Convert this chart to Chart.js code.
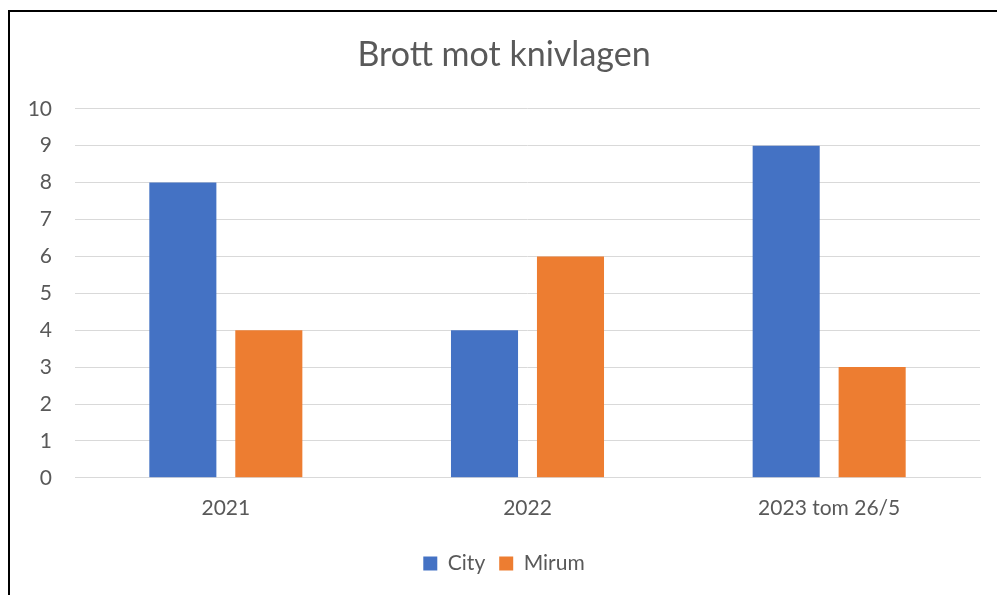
<!DOCTYPE html>
<html lang="sv">
<head>
  <meta charset="UTF-8">
  <title>Brott mot knivlagen</title>
  <script src="https://cdn.jsdelivr.net/npm/chart.js"></script>
  <style>
    body {
      margin: 0;
      background: #fff;
    }
    .frame {
      position: absolute;
      left: 8px;
      top: 10px;
      width: 989px;
      height: 585px;
      border-left: 2px solid #000;
      border-top: 2px solid #000;
      box-sizing: border-box;
    }
    .chart-box {
      position: absolute;
      left: 2px;
      top: 0;
      width: 987px;
      height: 583px;
    }
  </style>
</head>
<body>
  <div class="frame">
    <div class="chart-box">
      <canvas id="barChart"></canvas>
    </div>
  </div>

  <script>
    // data
    const categories = ["2021", "2022", "2023 tom 26/5"];
    const cityValues = [8, 4, 9];
    const mirumValues = [4, 6, 3];
    const yTicks = [0, 1, 2, 3, 4, 5, 6, 7, 8, 9, 10];

    const textColor = "#595959";
    const fontFamily = "Lato, 'Open Sans', sans-serif";

    const ctx = document.getElementById("barChart").getContext("2d");

    new Chart(ctx, {
      type: "bar",
      data: {
        labels: categories,
        datasets: [
          {
            label: "City",
            data: cityValues,
            backgroundColor: "#4472C4",
            categoryPercentage: 0.57,
            barPercentage: 0.78
          },
          {
            label: "Mirum",
            data: mirumValues,
            backgroundColor: "#ED7D31",
            categoryPercentage: 0.57,
            barPercentage: 0.78
          }
        ]
      },
      options: {
        responsive: true,
        maintainAspectRatio: false,
        animation: false,
        layout: {
          padding: { left: 16, right: 19, top: 0, bottom: 11 }
        },
        plugins: {
          title: {
            display: true,
            text: "Brott mot knivlagen",
            color: textColor,
            font: { family: fontFamily, size: 34, weight: "normal" },
            padding: { top: 23, bottom: 33 }
          },
          legend: {
            position: "bottom",
            labels: {
              color: textColor,
              font: { family: fontFamily, size: 21 },
              boxWidth: 14,
              boxHeight: 14,
              padding: 14
            }
          },
          tooltip: { enabled: false }
        },
        scales: {
          x: {
            grid: { display: false, drawTicks: false },
            border: { color: "#d9d9d9", width: 1 },
            ticks: {
              color: textColor,
              font: { family: fontFamily, size: 21 },
              padding: 18,
              maxRotation: 0
            }
          },
          y: {
            min: 0,
            max: 10,
            afterBuildTicks: function(scale) {
              scale.ticks = yTicks.map(v => ({ value: v }));
            },
            afterFit: function(scale) {
              scale.width = 47;
            },
            grid: { color: "#d9d9d9", drawTicks: false },
            border: { display: false },
            ticks: {
              color: textColor,
              font: { family: fontFamily, size: 21 },
              padding: 23
            }
          }
        }
      }
    });
  </script>
</body>
</html>
